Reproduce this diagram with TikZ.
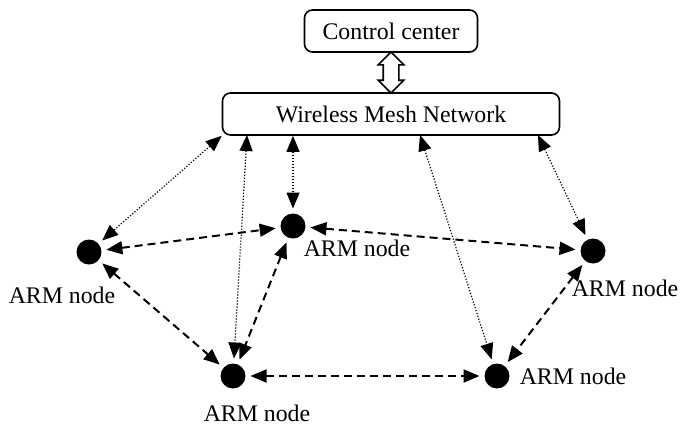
\documentclass[tikz,border=0pt]{standalone}
\usepackage{fontspec}
\setmainfont{Liberation Serif}
\usetikzlibrary{positioning}
\usetikzlibrary{calc}
\usetikzlibrary{arrows.meta}
\usetikzlibrary{shapes.arrows}

\begin{document}
\begin{tikzpicture}[x=0.5pt, y=-0.5pt]
  \tikzstyle{box}=[rectangle, rounded corners = 4pt, draw = black, line width = 0.8pt, minimum height = 21pt, font = \fontsize{11.9}{14}\selectfont]
  \tikzstyle{arm}=[circle, fill = black, minimum size = 12.5pt, inner sep = 0pt, outer sep = 2.5pt]
  \tikzstyle{lbl}=[inner sep = 0pt, font = \fontsize{11.9}{14}\selectfont]
  \tikzstyle{dbl}=[double arrow, draw = black, fill = white, line width = 0.8pt, rotate = 90, minimum height = 20.5pt, minimum width = 0pt, inner xsep = 0pt, inner ysep = 3.5pt, double arrow head extend = 2.5pt, double arrow head indent = 0pt]
  \tikzstyle{link}=[{Triangle[length = 8pt, width = 6.5pt]}-{Triangle[length = 8pt, width = 6.5pt]}, line width = 1pt, dash pattern = on 4pt off 2.5pt]
  \tikzstyle{wifi}=[{Triangle[length = 8pt, width = 6.5pt]}-{Triangle[length = 8pt, width = 6.5pt]}, line width = 0.6pt, dash pattern = on 0.6pt off 0.9pt]

  \useasboundingbox (0,0) rectangle (681,424);

  \node[box, minimum width = 86.5pt] (cc) at (391,31) {Control center};
  \node[box, minimum width = 168.5pt, node distance = 41.5pt] (wmn) [below of = cc] {Wireless Mesh Network};
  \node[dbl] (da) at ($(cc.south)!0.5!(wmn.north)$) {};

  \node[arm] (n1) at (89,252) {};
  \node[arm] (n2) at (293,226) {};
  \node[arm] (n3) at (233,376) {};
  \node[arm] (n4) at (593,251) {};
  \node[arm] (n5) at (497,376) {};

  \node[lbl, node distance = 21.5pt, xshift = -13.5pt] (t1) [below of = n1] {ARM node};
  \node[lbl, node distance = 32pt, yshift = -11pt] (t2) [right of = n2] {ARM node};
  \node[lbl, node distance = 18.5pt, xshift = 12pt] (t3) [below of = n3] {ARM node};
  \node[lbl, node distance = 18.5pt, xshift = 16pt] (t4) [below of = n4] {ARM node};
  \node[lbl, node distance = 38pt] (t5) [right of = n5] {ARM node};

  \coordinate (w2) at (247,135);
  \coordinate (w4) at (420,135);
  \coordinate (w5) at (538,135);

  \path (wmn.south west) edge [wifi] (n1)
        (w2) edge [wifi] (n3)
        (n2 |- wmn.south) edge [wifi] (n2)
        (w4) edge [wifi] (n5)
        (w5) edge [wifi] (n4);

  \path (n1) edge [link] (n2)
        (n1) edge [link] (n3)
        (n2) edge [link] (n3)
        (n2) edge [link] (n4)
        (n3) edge [link] (n5)
        (n4) edge [link] (n5);

\end{tikzpicture}
\end{document}
